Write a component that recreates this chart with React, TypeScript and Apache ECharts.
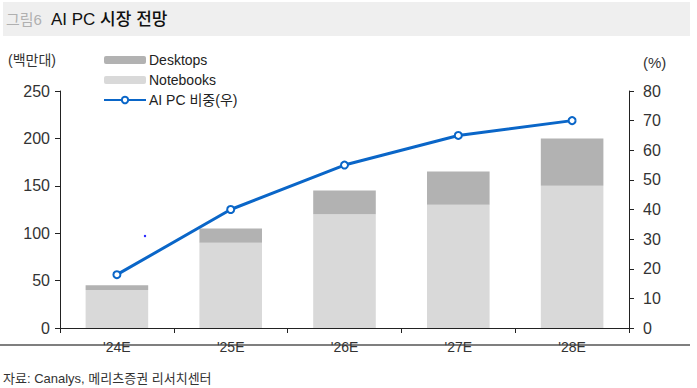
import React, { useEffect, useRef } from "react";
import * as echarts from "echarts";

const categories = ["'24E", "'25E", "'26E", "'27E", "'28E"];
const notebooks = [40, 90, 120, 130, 150];
const desktops = [5, 15, 25, 35, 50];
const aiPcShare = [18, 40, 55, 65, 70];

const FONT = "'Liberation Sans', 'Noto Sans CJK KR', sans-serif";

export default function App() {
  const ref = useRef<HTMLDivElement>(null);
  useEffect(() => {
    if (!ref.current) return;
    const chart = echarts.init(ref.current, undefined, { renderer: "svg" });
    chart.setOption({
      animation: false,
      backgroundColor: "#ffffff",
      textStyle: { fontFamily: FONT },
      grid: { left: 60, right: 68, top: 91, bottom: 60 },
      legend: {
        orient: "vertical",
        left: 103,
        top: 52,
        padding: 0,
        itemWidth: 42,
        itemHeight: 8,
        itemGap: 4,
        data: ["Desktops", "Notebooks", "AI PC 비중(우)"],
        textStyle: { fontSize: 14, color: "#222", fontFamily: FONT, lineHeight: 16, padding: [0, 0, 0, -2] },
      },
      xAxis: {
        type: "category",
        data: categories,
        axisLine: { lineStyle: { color: "#222", width: 1 } },
        axisTick: { show: true, length: 5, lineStyle: { color: "#222" } },
        axisLabel: { fontSize: 14, color: "#333", margin: 12 },
      },
      yAxis: [
        {
          type: "value",
          min: 0,
          max: 250,
          interval: 50,
          splitLine: { show: false },
          axisLine: { show: true, lineStyle: { color: "#222" } },
          axisTick: { show: true, length: 5, lineStyle: { color: "#222" } },
          axisLabel: { fontSize: 16, color: "#333", margin: 10 },
        },
        {
          type: "value",
          min: 0,
          max: 80,
          interval: 10,
          position: "right",
          splitLine: { show: false },
          axisLine: { show: true, lineStyle: { color: "#222" } },
          axisTick: { show: true, length: 5, lineStyle: { color: "#222" } },
          axisLabel: { fontSize: 16, color: "#333", margin: 14 },
        },
      ],
      series: [
        {
          name: "Notebooks",
          type: "bar",
          stack: "pc",
          data: notebooks,
          barWidth: "55%",
          itemStyle: { color: "#d9d9d9" },
        },
        {
          name: "Desktops",
          type: "bar",
          stack: "pc",
          data: desktops,
          barWidth: "55%",
          itemStyle: { color: "#b2b2b2" },
        },
        {
          name: "AI PC 비중(우)",
          type: "line",
          yAxisIndex: 1,
          data: aiPcShare,
          symbol: "emptyCircle",
          symbolSize: 7,
          lineStyle: { color: "#0a66c8", width: 3 },
          itemStyle: { color: "#0a66c8", borderWidth: 2 },
        },
      ],
      graphic: [
        {
          type: "rect",
          shape: { x: 3, y: 2, width: 687, height: 34 },
          style: { fill: "#efefef" },
          silent: true,
        },
        {
          type: "text",
          x: 6,
          y: 19,
          style: {
            text: "그림6",
            fontSize: 15,
            fill: "#b0b0b0",
            fontFamily: FONT,
            verticalAlign: "middle",
          },
        },
        {
          type: "text",
          x: 51,
          y: 19,
          style: {
            text: "AI PC 시장 전망",
            fontSize: 17,
            fontWeight: 500,
            fill: "#111",
            fontFamily: FONT,
            verticalAlign: "middle",
          },
        },
        {
          type: "text",
          x: 8,
          y: 60,
          style: {
            text: "(백만대)",
            fontSize: 14,
            fill: "#333",
            fontFamily: FONT,
            verticalAlign: "middle",
          },
        },
        {
          type: "text",
          x: 643,
          y: 62,
          style: {
            text: "(%)",
            fontSize: 15,
            fill: "#333",
            fontFamily: FONT,
            verticalAlign: "middle",
          },
        },
        {
          type: "circle",
          shape: { cx: 145, cy: 236, r: 1.2 },
          style: { fill: "#2020ff" },
          silent: true,
        },
        {
          type: "line",
          shape: { x1: 0, y1: 345, x2: 690, y2: 345 },
          style: { stroke: "#555", lineWidth: 1.5 },
          silent: true,
        },
        {
          type: "text",
          x: 3,
          y: 378,
          style: {
            text: "자료: Canalys, 메리츠증권 리서치센터",
            fontSize: 13,
            fill: "#333",
            fontFamily: FONT,
            verticalAlign: "middle",
          },
        },
      ],
    });
    return () => chart.dispose();
  }, []);
  return (
    <div
      ref={ref}
      style={{ position: "fixed", left: 0, top: 0, width: 697, height: 388 }}
    />
  );
}
